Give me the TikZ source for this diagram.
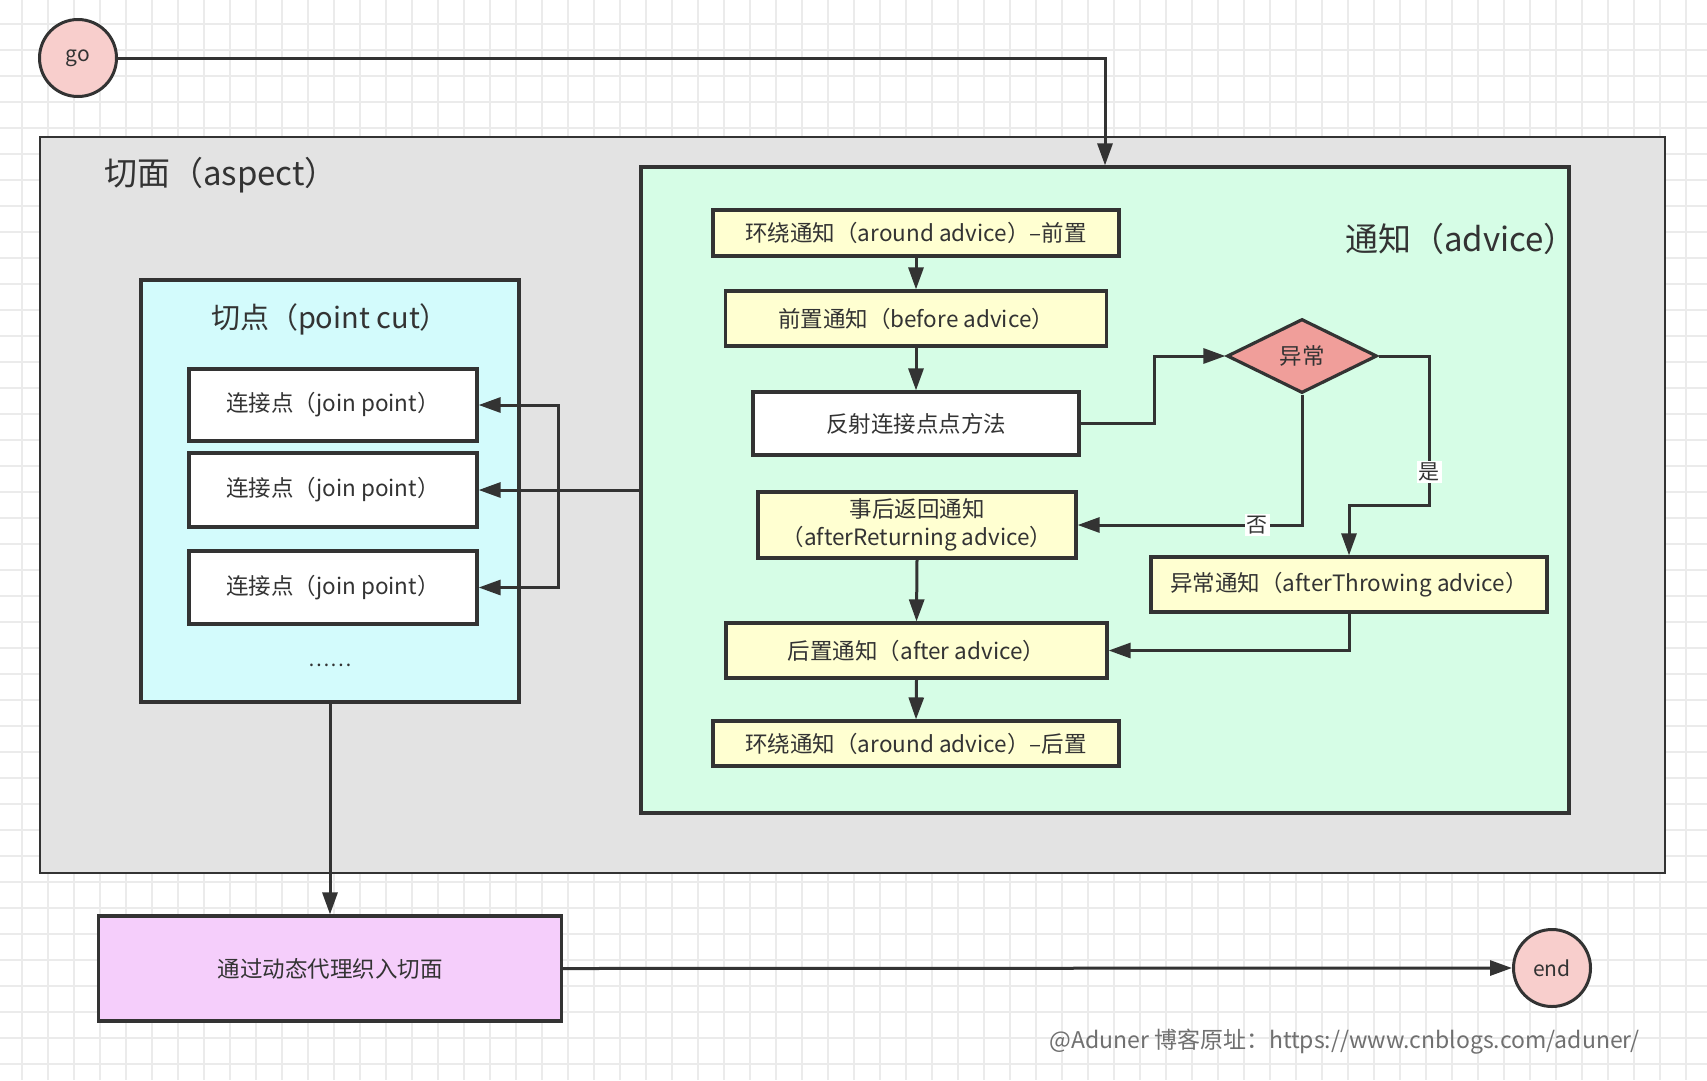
\documentclass[tikz,border=0pt]{standalone}
\usepackage{fontspec}
\setmainfont{Noto Sans CJK SC}
\usetikzlibrary{arrows.meta,shapes.geometric}
\definecolor{aopLine}{HTML}{333333}
\definecolor{aopGrid}{HTML}{EBEBEB}
\definecolor{aopAspect}{HTML}{E3E3E3}
\definecolor{aopAdvice}{HTML}{D6FDE6}
\definecolor{aopCut}{HTML}{D3FBFC}
\definecolor{aopNote}{HTML}{FFFFD1}
\definecolor{aopCond}{HTML}{F09E9A}
\definecolor{aopTerm}{HTML}{F8CECC}
\definecolor{aopWeave}{HTML}{F5CEFB}
\definecolor{aopCredit}{HTML}{707070}
\newcommand{\aopFont}[1]{\fontsize{#1}{#1}\selectfont}
\begin{document}
\begin{tikzpicture}[x=1pt,y=-1pt,
  box/.style={draw=aopLine, line width=3.2pt, rectangle, inner sep=0pt, text=aopLine, font=\aopFont{22.5}},
  note/.style={box, fill=aopNote},
  term/.style={draw=aopLine, line width=3pt, circle, fill=aopTerm, minimum size=77pt, inner sep=0pt, text=aopLine, font=\aopFont{21}},
  title/.style={inner sep=0pt, text=aopLine},
  link/.style={draw=aopLine, line width=3pt, -{Triangle[length=22pt,width=15pt]}},
  tag/.style={fill=white, inner sep=2pt, text=aopLine, font=\aopFont{21}}]
\useasboundingbox (0,0) rectangle (1707,1080);
\fill[white] (0,0) rectangle (1707,1080);
\foreach \gx in {22,48,...,1707} \draw[aopGrid, line width=1.2pt] (\gx,0) -- (\gx,1080);
\foreach \gy in {24,50,...,1080} \draw[aopGrid, line width=1.2pt] (0,\gy) -- (1707,\gy);
\node[term] (go) at (78,58) {go};
\node[box, fill=aopAspect, line width=2.8pt, minimum width=1625pt, minimum height=736pt] (aspect) at (852.5,505) {};
\node[title, anchor=west, font=\aopFont{33}] (aspectTitle) at (104,175) {切面（aspect）};
\node[box, fill=aopCut, minimum width=378pt, minimum height=422pt] (cut) at (330,491) {};
\node[title, font=\aopFont{29}] (cutTitle) at (330,319) {切点（point cut）};
\node[box, fill=white, minimum width=288pt, minimum height=72pt] (jpA) at (333,405) {连接点（join point）};
\node[box, fill=white, minimum width=288pt, minimum height=74pt] (jpB) at (333,490) {连接点（join point）};
\node[box, fill=white, minimum width=288pt, minimum height=73pt] (jpC) at (333,587.5) {连接点（join point）};
\node[title, font=\aopFont{20}] (more) at (330,665) {……};
\node[box, fill=aopAdvice, minimum width=928pt, minimum height=646pt] (advice) at (1105,490) {};
\node[title, anchor=east, font=\aopFont{33}] (adviceTitle) at (1577,239) {通知（advice）};
\node[note, minimum width=406pt, minimum height=46pt] (aroundPre) at (916,233) {环绕通知（around advice）–前置};
\node[note, minimum width=381pt, minimum height=55pt] (before) at (916,318.5) {前置通知（before advice）};
\node[box, fill=white, minimum width=326pt, minimum height=63pt] (invoke) at (916,423.5) {反射连接点点方法};
\node[draw=aopLine, line width=3.2pt, diamond, aspect=2, fill=aopCond, minimum width=150pt, minimum height=74pt, inner sep=0pt, text=aopLine, font=\aopFont{22.5}] (fault) at (1302,356) {异常};
\node[note, minimum width=318pt, minimum height=66pt, align=center, font=\fontsize{22.5}{28}\selectfont] (afterRet) at (917,525) {事后返回通知\\（afterReturning advice）};
\node[note, minimum width=396pt, minimum height=55pt] (afterThrow) at (1349,584.5) {异常通知（afterThrowing advice）};
\node[note, minimum width=381pt, minimum height=55pt] (after) at (916.5,650.5) {后置通知（after advice）};
\node[note, minimum width=406pt, minimum height=45pt] (aroundPost) at (916,743.5) {环绕通知（around advice）–后置};
\node[box, fill=aopWeave, minimum width=463pt, minimum height=105pt] (weave) at (330,968.5) {通过动态代理织入切面};
\node[term] (end) at (1552,968) {end};
\node[anchor=east, text=aopCredit, inner sep=0pt, font=\aopFont{23}] (credit) at (1640,1042) {@Aduner 博客原址：https://www.cnblogs.com/aduner/};
\coordinate (invokeTurn) at (1154,356);
\coordinate (faultTurn) at (1429,505);
\coordinate (fanTurn) at (558,490);
\draw[link] (go.east) -| (advice.north);
\draw[link] (aroundPre.south) -- (before.north);
\draw[link] (before.south) -- (invoke.north);
\draw[link] (invoke.east) -| (invokeTurn) -- (fault.west);
\draw[link] (fault.south) |- node[tag, pos=0.6] (no) {否} (afterRet.east);
\draw[link] (fault.east) -| node[tag, pos=0.89] (yes) {是} (faultTurn) -| (afterThrow.north);
\draw[link] (afterRet.south) -- (after.north);
\draw[link] (afterThrow.south) |- (after.east);
\draw[link] (after.south) -- (aroundPost.north);
\draw[link] (advice.west) -- (jpB.east);
\draw[link] (fanTurn) |- (jpA.east);
\draw[link] (fanTurn) |- (jpC.east);
\draw[link] (cut.south) -- (weave.north);
\draw[link] (weave.east) -- (end.west);
\end{tikzpicture}
\end{document}
